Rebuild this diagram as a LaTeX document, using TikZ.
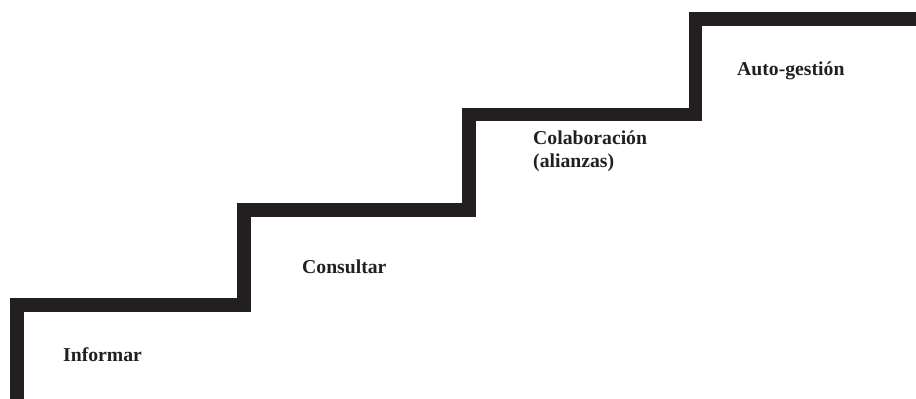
\documentclass[tikz,border=0pt]{standalone}
\usepackage{fontspec}
\setmainfont{Liberation Serif}
\definecolor{stairink}{HTML}{231F20}
\begin{document}
\begin{tikzpicture}[x=1pt,y=-1pt,
  stair/.style={draw=stairink,line width=13.5pt,line join=miter},
  steplabel/.style={inner sep=0pt,anchor=base west,align=left,text=stairink,
    font=\bfseries\fontsize{19.7}{23}\selectfont}]
\useasboundingbox (0,0) rectangle (916,399);
\coordinate (s0) at (17,403);
\coordinate (s1) at (17,305);
\coordinate (s2) at (244,305);
\coordinate (s3) at (244,210);
\coordinate (s4) at (469,210);
\coordinate (s5) at (469,114.5);
\coordinate (s6) at (695.5,114.5);
\coordinate (s7) at (695.5,19);
\coordinate (s8) at (920,19);
\draw[stair] (s0) -- (s1) -- (s2) -- (s3) -- (s4) -- (s5) -- (s6) -- (s7) -- (s8);
\node[steplabel] (informar) at (63,361) {Informar};
\node[steplabel] (consultar) at (302,273) {Consultar};
\node[steplabel] (colab) at (533,167) {Colaboración\\(alianzas)};
\node[steplabel] (auto) at (737,75) {Auto-gestión};
\end{tikzpicture}
\end{document}
